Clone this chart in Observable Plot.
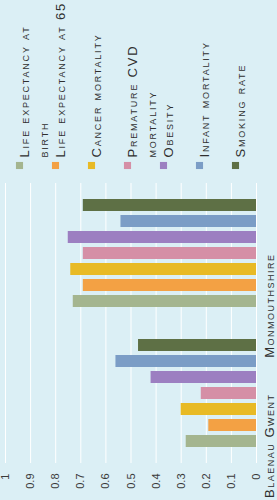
<!DOCTYPE html>
<html><head><meta charset="utf-8">
<script src="https://cdn.jsdelivr.net/npm/d3@7"></script>
<script src="https://cdn.jsdelivr.net/npm/@observablehq/plot@0.6"></script>
<style>
html,body{margin:0;padding:0;background:#dbeff5;}
#chart{width:277px;height:500px;overflow:hidden;}
#chart svg{display:block;}
#legend g[aria-label="text"] text{letter-spacing:1.8px;}
#main g[aria-label="text"] text{letter-spacing:1.5px;}
</style></head><body><div id="chart"><div id="legend"></div><div id="main"></div></div>
<script>
const counties = ["Monmouthshire", "Blaenau Gwent"];
const metrics = ["Life expectancy at birth", "Life expectancy at 65", "Cancer mortality", "Premature CVD mortality", "Obesity", "Infant mortality", "Smoking rate"];
const legendLabels = ["Life expectancy at\nbirth", "Life expectancy at 65", "Cancer mortality", "Premature CVD\nmortality", "Obesity", "Infant mortality", "Smoking rate"];
const colors = ["#a4b58f", "#f3a144", "#e8ba25", "#d58fa6", "#9c7fc1", "#7b9dc6", "#5e7045"];
const monmouthshire = [0.73, 0.69, 0.74, 0.69, 0.75, 0.54, 0.69];
const blaenauGwent = [0.28, 0.19, 0.30, 0.22, 0.42, 0.56, 0.47];
const ticks = [0, 0.1, 0.2, 0.3, 0.4, 0.5, 0.6, 0.7, 0.8, 0.9, 1];
const tickLabels = ["0", "0.1", "0.2", "0.3", "0.4", "0.5", "0.6", "0.7", "0.8", "0.9", "1"];

const data = [];
metrics.forEach((m, i) => {
  data.push({county: counties[0], metric: m, value: monmouthshire[i]});
  data.push({county: counties[1], metric: m, value: blaenauGwent[i]});
});

const font = "'Liberation Sans', Arial, sans-serif";

const legend = Plot.plot({
  width: 277, height: 175,
  marginLeft: 18, marginRight: 41, marginTop: 0, marginBottom: 10,
  style: {background: "transparent", fontFamily: font},
  x: {type: "point", domain: metrics, padding: 0, axis: null},
  color: {domain: metrics, range: colors},
  marks: [
    Plot.dot(metrics, {x: d => d, fill: d => d, symbol: "square", r: 4, frameAnchor: "bottom"}),
    Plot.text(metrics, {x: d => d, text: (d, i) => legendLabels[i], frameAnchor: "bottom", rotate: -90,
      textAnchor: "start", lineAnchor: "top", dy: -8, dx: -4, fontSize: 13, lineHeight: 1.45,
      fontVariant: "small-caps", fill: "#2f2f2f"})
  ]
});
document.getElementById("legend").appendChild(legend);

const main = Plot.plot({
  width: 277, height: 325,
  marginTop: 7, marginBottom: 37, marginLeft: 5, marginRight: 21,
  style: {background: "transparent", fontFamily: font, color: "#3a3a3a"},
  x: {domain: [0, 1], reverse: true, label: null},
  fy: {domain: counties, padding: 0, axis: null},
  y: {domain: metrics.slice().reverse(), paddingInner: 0.24, paddingOuter: 0.88, axis: null},
  color: {domain: metrics, range: colors},
  marks: [
    Plot.ruleX(ticks, {stroke: "#ffffff", strokeWidth: 1}),
    Plot.barX(data, {x: "value", y: "metric", fy: "county", fill: "metric"}),
    Plot.axisX({ticks, tickFormat: (d) => tickLabels[ticks.indexOf(d)], tickSize: 0, tickPadding: 10,
      tickRotate: -90, fontSize: 11, fill: "#3a3a3a", label: null}),
    Plot.text(counties, {fy: d => d, text: d => d, frameAnchor: "right", rotate: -90, dx: 13,
      fontSize: 13, fontVariant: "small-caps", fill: "#2f2f2f"})
  ]
});
document.getElementById("main").appendChild(main);
</script></body></html>
